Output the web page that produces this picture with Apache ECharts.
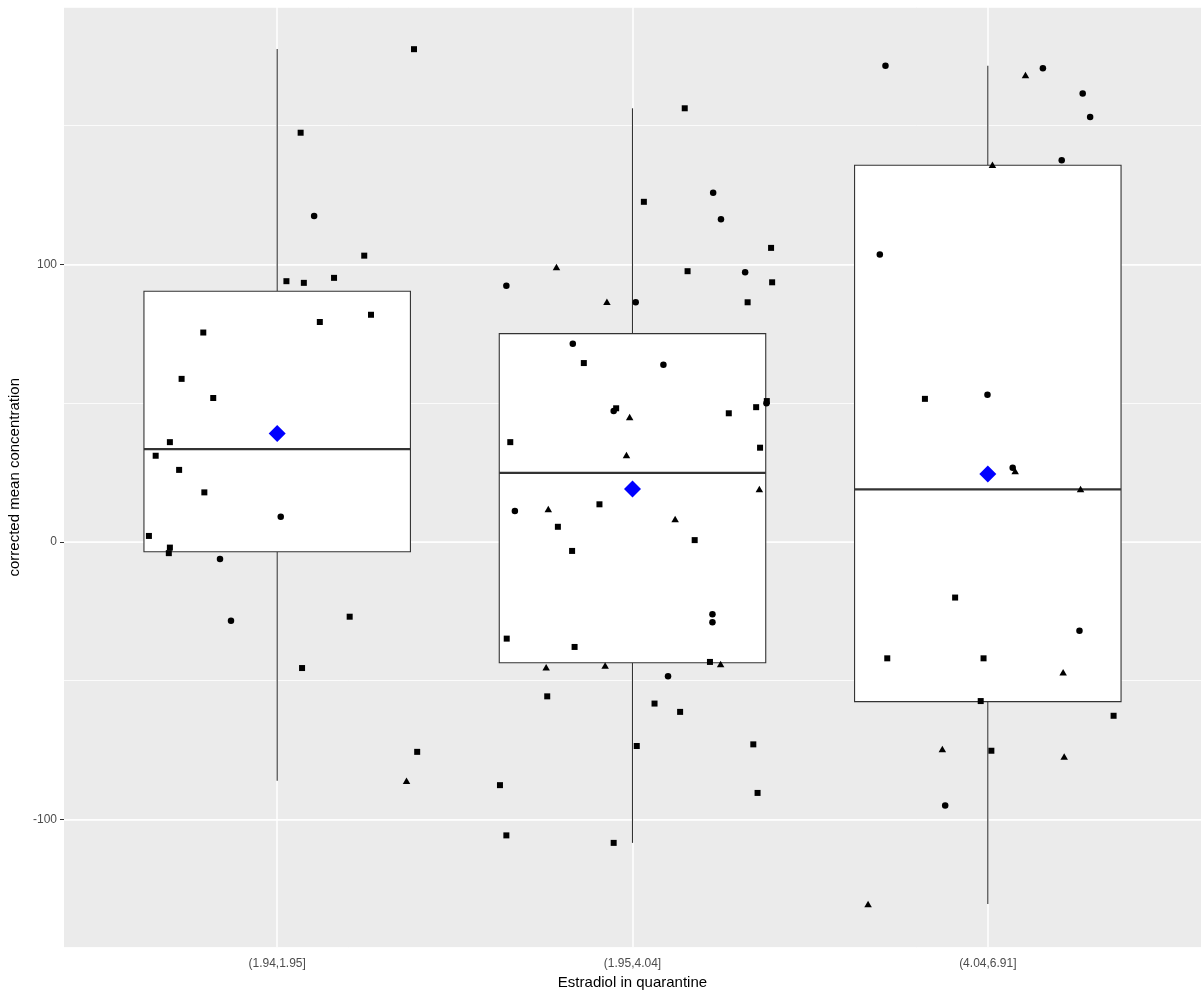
<!DOCTYPE html>
<html>
<head>
<meta charset="utf-8">
<script src="https://cdn.jsdelivr.net/npm/echarts@6.0.0/dist/echarts.min.js"></script>
<style>
  html, body { margin: 0; padding: 0; background: #fff; }
  #boxChart { width: 1201px; height: 994px; }
</style>
</head>
<body>
<div id="boxChart"></div>
<script>
// categories (cut of estradiol)
const categories = ['(1.94,1.95]', '(1.95,4.04]', '(4.04,6.91]'];

// box statistics per category
const whiskerLow  = [-86.1, -108.5, -130.5];
const q1          = [-3.6, -43.6, -57.6];
const medians     = [33.4, 24.8, 18.9];
const q3          = [90.3, 75.0, 135.7];
const whiskerHigh = [177.6, 156.2, 171.5];
const means       = [39.0, 19.0, 24.4];

// y tick labels
const yTicks = [-100, 0, 100];

// jittered observations: [x position, corrected mean concentration]
const circlePoints = [
  [1.104, 117.4], [1.010, 9.0], [0.839, -6.2], [0.870, -28.5],
  [2.227, 125.8], [2.249, 116.2], [1.645, 92.3], [2.317, 97.1], [2.009, 86.3],
  [1.832, 71.4], [2.087, 63.8], [1.947, 47.1], [2.377, 49.9], [1.669, 11.1],
  [2.225, -26.1], [2.225, -29.0], [2.100, -48.5],
  [2.712, 171.5], [3.155, 170.6], [3.267, 161.5], [3.288, 153.1], [3.208, 137.5],
  [2.696, 103.5], [2.999, 53.0], [3.070, 26.7], [3.258, -32.1], [2.880, -95.0]
];
const squarePoints = [
  [1.385, 177.5], [1.066, 147.4], [1.245, 103.1], [1.026, 93.9], [1.075, 93.3],
  [1.160, 95.1], [1.264, 81.8], [1.120, 79.2], [0.792, 75.4], [0.731, 58.7],
  [0.820, 51.8], [0.698, 35.9], [0.658, 31.0], [0.724, 25.9], [0.795, 17.8],
  [0.639, 2.1], [0.698, -2.1], [0.695, -4.1], [1.204, -27.0], [1.070, -45.5],
  [1.394, -75.7],
  [2.147, 156.2], [2.032, 122.5], [2.390, 105.9], [2.155, 97.5], [2.393, 93.5],
  [2.324, 86.3], [1.863, 64.4], [1.954, 48.1], [2.271, 46.3], [2.348, 48.5],
  [2.378, 50.7], [1.656, 35.9], [2.359, 33.9], [1.907, 13.5], [1.790, 5.4],
  [2.175, 0.6], [1.830, -3.3], [1.646, -34.9], [1.837, -37.9], [2.218, -43.3],
  [1.760, -55.7], [2.062, -58.3], [2.134, -61.3], [2.012, -73.6], [2.340, -73.0],
  [1.627, -87.7], [2.352, -90.5], [1.645, -105.8], [1.947, -108.5],
  [2.823, 51.5], [2.908, -20.1], [2.717, -42.0], [2.988, -42.0], [2.980, -57.4],
  [3.354, -62.7], [3.010, -75.3]
];
const trianglePoints = [
  [1.364, -86.1],
  [1.786, 99.0], [1.928, 86.5], [1.992, 45.0], [1.983, 31.3], [2.357, 19.0],
  [1.763, 11.8], [2.120, 8.2], [1.757, -45.2], [1.923, -44.6], [2.248, -44.0],
  [3.106, 168.2], [3.013, 135.9], [3.077, 25.5], [3.261, 19.0], [3.212, -47.0],
  [2.872, -74.7], [3.215, -77.4], [2.663, -130.5]
];

const yMin = -146.2;
const yMax = 192.7;
const fontName = 'Liberation Sans, Arial, sans-serif';

const boxData = categories.map((c, i) => [i + 1, whiskerLow[i], q1[i], medians[i], q3[i], whiskerHigh[i]]);
const meanData = means.map((m, i) => [i + 1, m]);
const catPositions = categories.map((c, i) => i + 1);

function renderBox(params, api) {
  const x = api.value(0);
  const halfW = 0.375;
  const pLow = api.coord([x, api.value(1)]);
  const pQ1 = api.coord([x, api.value(2)]);
  const pMed = api.coord([x, api.value(3)]);
  const pQ3 = api.coord([x, api.value(4)]);
  const pHigh = api.coord([x, api.value(5)]);
  const left = api.coord([x - halfW, api.value(3)])[0];
  const right = api.coord([x + halfW, api.value(3)])[0];
  return {
    type: 'group',
    children: [
      { type: 'line', shape: { x1: pLow[0], y1: pLow[1], x2: pQ1[0], y2: pQ1[1] },
        style: { stroke: '#333333', lineWidth: 1.1 } },
      { type: 'line', shape: { x1: pQ3[0], y1: pQ3[1], x2: pHigh[0], y2: pHigh[1] },
        style: { stroke: '#333333', lineWidth: 1.1 } },
      { type: 'rect', shape: { x: left, y: pQ3[1], width: right - left, height: pQ1[1] - pQ3[1] },
        style: { fill: '#ffffff', stroke: '#333333', lineWidth: 1.1 } },
      { type: 'line', shape: { x1: left, y1: pMed[1], x2: right, y2: pMed[1] },
        style: { stroke: '#333333', lineWidth: 2.2 } }
    ]
  };
}

const chart = echarts.init(document.getElementById('boxChart'));

const option = {
  animation: false,
  textStyle: { fontFamily: fontName },
  grid: {
    left: 64, right: 0, top: 7, bottom: 46.5,
    show: true, backgroundColor: '#EBEBEB', borderWidth: 0,
    outerBoundsMode: 'none'
  },
  xAxis: {
    type: 'value', min: 0.4, max: 3.6, splitNumber: 3,
    axisLine: { show: false },
    axisTick: { show: true, length: 4, customValues: catPositions, lineStyle: { color: '#333333' } },
    axisLabel: {
      customValues: catPositions,
      formatter: v => (Number.isInteger(v) && categories[v - 1]) ? categories[v - 1] : '',
      color: '#4D4D4D', fontSize: 12, margin: 10, fontFamily: fontName
    },
    splitLine: { show: true, lineStyle: { color: '#ffffff', width: 1.5 } },
    name: 'Estradiol in quarantine', nameLocation: 'middle', nameGap: 28,
    nameTextStyle: { color: '#000000', fontSize: 15, fontFamily: fontName }
  },
  yAxis: [
    {
      type: 'value', min: yMin, max: yMax, splitNumber: 3,
      axisLine: { show: false },
      axisTick: { show: true, length: 4, customValues: yTicks, lineStyle: { color: '#333333' } },
      axisLabel: {
        customValues: yTicks,
        formatter: v => (v % 100 === 0 ? String(v) : ''),
        color: '#4D4D4D', fontSize: 12, margin: 7, fontFamily: fontName
      },
      splitLine: { show: true, lineStyle: { color: '#ffffff', width: 1.5 } },
      name: 'corrected mean concentration', nameLocation: 'middle', nameGap: 34,
      nameTextStyle: { color: '#000000', fontSize: 15, fontFamily: fontName }
    },
    {
      // minor grid lines every 50
      type: 'value', min: yMin, max: yMax, splitNumber: 7,
      axisLine: { show: false }, axisTick: { show: false }, axisLabel: { show: false },
      splitLine: { show: true, lineStyle: { color: '#ffffff', width: 0.8 } }
    }
  ],
  series: [
    {
      type: 'custom', renderItem: renderBox, data: boxData, z: 1,
      encode: { x: 0, y: [1, 2, 3, 4, 5] }, silent: true
    },
    {
      type: 'scatter', symbol: 'rect', symbolSize: 6, data: squarePoints, z: 2,
      itemStyle: { color: '#000000', opacity: 1 }, silent: true
    },
    {
      type: 'scatter', symbol: 'circle', symbolSize: 6.5, data: circlePoints, z: 2,
      itemStyle: { color: '#000000', opacity: 1 }, silent: true
    },
    {
      type: 'scatter', symbol: 'triangle', symbolSize: [7.5, 6.5], data: trianglePoints, z: 2,
      itemStyle: { color: '#000000', opacity: 1 }, silent: true
    },
    {
      type: 'scatter', symbol: 'diamond', symbolSize: [17, 17], data: meanData, z: 3,
      itemStyle: { color: '#0000FF', opacity: 1 }, silent: true
    }
  ]
};

chart.setOption(option);
</script>
</body>
</html>
